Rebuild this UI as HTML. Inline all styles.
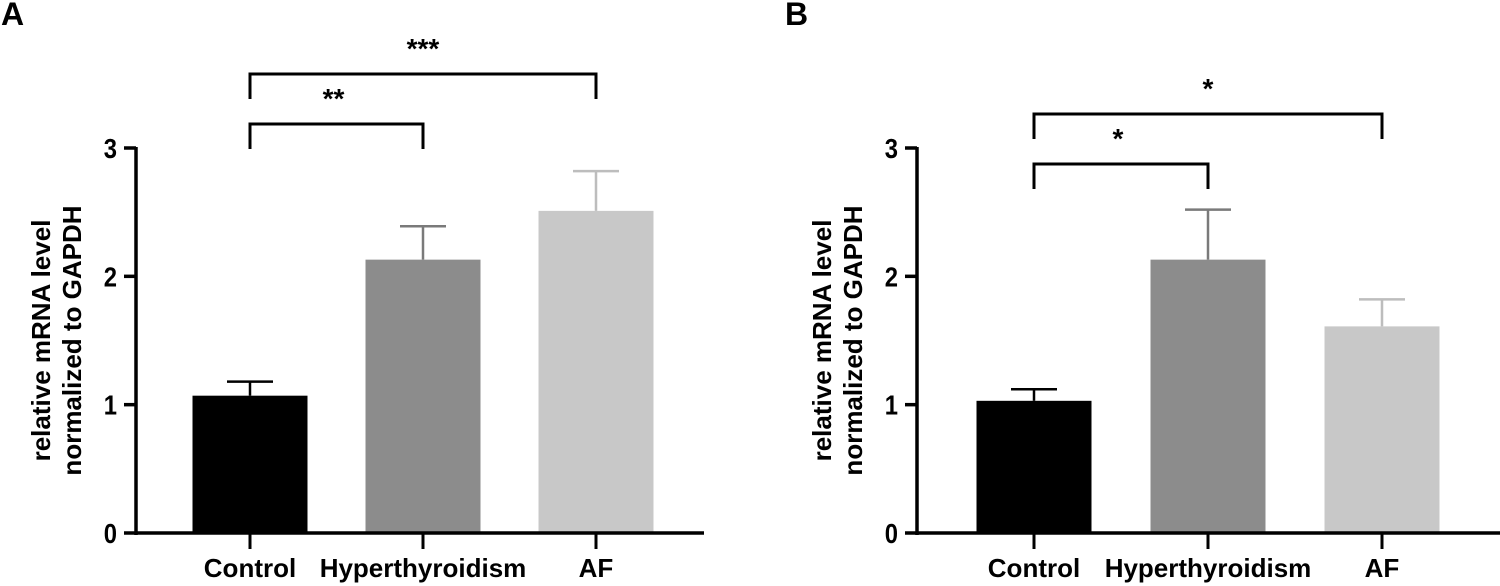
<!DOCTYPE html>
<html><head><meta charset="utf-8"><style>
html,body{margin:0;padding:0;background:#fff;}
svg{display:block;font-family:"Liberation Sans",Arial,sans-serif;font-weight:bold;}
</style></head><body>
<svg id="fig" width="1500" height="586" viewBox="0 0 1500 586"></svg>
<script>
const categories = ["Control","Hyperthyroidism","AF"];
const valuesA = [1.07, 2.13, 2.51];
const errorsA = [1.18, 2.39, 2.82];
const valuesB = [1.03, 2.13, 1.61];
const errorsB = [1.12, 2.52, 1.82];
const yTicks = [0,1,2,3];
const sigA = [{from:0,to:2,label:"***"},{from:0,to:1,label:"**"}];
const sigB = [{from:0,to:2,label:"*"},{from:0,to:1,label:"*"}];
const colors = ["#000000","#8c8c8c","#c8c8c8"];
const errColors = ["#000000","#7a7a7a","#bdbdbd"];

const NS="http://www.w3.org/2000/svg";
const svg=document.getElementById('fig');
function mk(tag,attrs,parent){const e=document.createElementNS(NS,tag);for(const k in attrs)e.setAttribute(k,attrs[k]);(parent||svg).appendChild(e);return e;}

function panel(cfg){
  const g=mk('g',{});
  
  
  const y0=cfg.y0, y3=cfg.y3, ymax=3;
  const ys=v=>y0-(y0-y3)*v/ymax;
  const xs=i=>cfg.x0+i*cfg.step;
  const bw=115;
  const letter=mk('text',{x:cfg.letterX,y:25,'font-size':32},g);letter.textContent=cfg.letter;
  
  
  cfg.vals.forEach((v,i)=>{
    const e=mk('line',{x1:xs(i),x2:xs(i),y1:ys(v),y2:ys(cfg.errs[i]),stroke:errColors[i],'stroke-width':2.5},g);
    
    
    mk('line',{x1:xs(i)-23,x2:xs(i)+23,y1:ys(cfg.errs[i]),y2:ys(cfg.errs[i]),stroke:errColors[i],'stroke-width':2.5},g);
    const r=mk('rect',{x:xs(i)-bw/2,y:ys(v),width:bw,height:y0-ys(v),fill:colors[i]},g);
    
    
  });
  const ya=mk('line',{x1:cfg.ax,x2:cfg.ax,y1:y3-1,y2:y0+2,stroke:'#000','stroke-width':3.5},g);
  
  
  const xa=mk('line',{x1:cfg.ax-12,x2:cfg.xEnd,y1:y0,y2:y0,stroke:'#000','stroke-width':3.5},g);
  
  
  yTicks.forEach(t=>{
    if(t>0)mk('line',{x1:cfg.ax-12,x2:cfg.ax,y1:ys(t),y2:ys(t),stroke:'#000','stroke-width':3.5},g);
    const tl=mk('text',{x:cfg.ax-19,y:ys(t)+10,'font-size':28,'text-anchor':'end',transform:`translate(${cfg.ax-19} 0) scale(0.85 1) translate(${-(cfg.ax-19)} 0)`},g);tl.textContent=t;
    
    
  });
  categories.forEach((c,i)=>{
    mk('line',{x1:xs(i),x2:xs(i),y1:y0,y2:y0+16,stroke:'#000','stroke-width':3},g);
    const tl=mk('text',{x:xs(i),y:577,'font-size':26,'text-anchor':'middle'},g);tl.textContent=c;
    
    
  });
  const yl=mk('text',{transform:`translate(${cfg.labX},${(y0+y3)/2}) rotate(-90)`,'font-size':26,'text-anchor':'middle'},g);
  
  
  const t1=mk('tspan',{x:0,y:0},yl);t1.textContent='relative mRNA level';
  const t2=mk('tspan',{x:0,y:31},yl);t2.textContent='normalized to GAPDH';
  cfg.sig.forEach((s,k)=>{
    const top=cfg.sigTops[k];
    const p=mk('path',{d:`M${xs(s.from)} ${top+25}V${top}H${xs(s.to)}V${top+25}`,fill:'none',stroke:'#000','stroke-width':3},g);
    
    
    const st=mk('text',{x:(xs(s.from)+xs(s.to))/2+(k===1?-3:0),y:top-16,'font-size':28,'text-anchor':'middle'},g);st.textContent=s.label;
    
    
  });
}
panel({letter:'A',letterX:1,ax:136,x0:250,step:173,xEnd:704,y0:533,y3:148,vals:valuesA,errs:errorsA,labX:50,sig:sigA,sigTops:[74,124]});
panel({letter:'B',letterX:785,ax:917,x0:1034,step:174,xEnd:1500,y0:533,y3:148,vals:valuesB,errs:errorsB,labX:831,sig:sigB,sigTops:[114,164]});
</script>
</body></html>
